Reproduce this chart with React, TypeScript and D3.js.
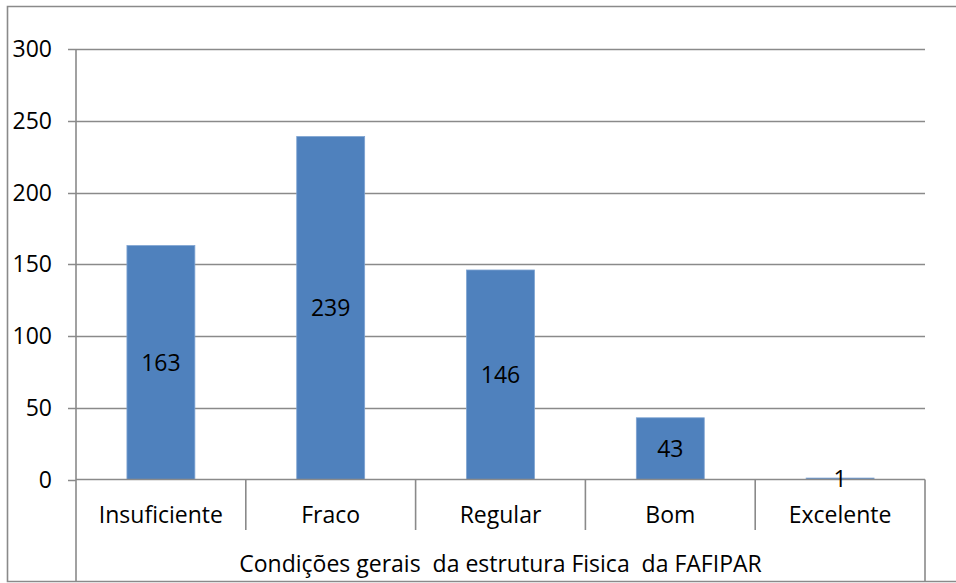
import React, { useRef, useEffect } from 'react';
import * as d3 from 'd3';

const categories = ['Insuficiente', 'Fraco', 'Regular', 'Bom', 'Excelente'];
const values = [163, 239, 146, 43, 1];
const yTicks = [0, 50, 100, 150, 200, 250, 300];
const groupLabel = 'Condições gerais  da estrutura Fisica  da FAFIPAR';

const W = 956;
const H = 583;
const FONT = '"Open Sans", "Noto Sans", sans-serif';

const App = () => {
  const svgRef = useRef<SVGSVGElement>(null);

  useEffect(() => {
    const svg = d3.select(svgRef.current);
    svg.selectAll('*').remove();

    const left = 76, right = 925, top = 49, zeroY = 479.5;
    const gray = '#8a8a8a';

    const x = d3.scaleBand().domain(categories).range([left, right]).paddingInner(0.6).paddingOuter(0.3);
    const band = d3.scaleBand().domain(categories).range([left, right]);
    const y = d3.scaleLinear().domain([0, 300]).range([zeroY, top]);

    // outer frame
    svg.append('path')
      .attr('d', `M${W},6.5 H7.5 V581.5 H${W}`)
      .attr('fill', 'none').attr('stroke', gray).attr('stroke-width', 1.6);

    // gridlines
    svg.append('g').selectAll('line')
      .data(yTicks.filter(t => t > 0))
      .enter().append('line')
      .attr('x1', left).attr('x2', right)
      .attr('y1', d => Math.round(y(d)) + 0.5).attr('y2', d => Math.round(y(d)) + 0.5)
      .attr('stroke', gray).attr('stroke-width', 1.3);

    // bars
    svg.append('g').selectAll('rect')
      .data(values)
      .enter().append('rect')
      .attr('x', (d, i) => x(categories[i])!)
      .attr('y', d => y(d))
      .attr('width', x.bandwidth())
      .attr('height', d => zeroY - y(d))
      .attr('fill', '#4f81bd')
      .attr('stroke', '#7ea3d2').attr('stroke-width', 0.8);

    // y axis ticks and labels
    const yAxis = svg.append('g');
    yAxis.selectAll('line')
      .data(yTicks)
      .enter().append('line')
      .attr('x1', 68).attr('x2', left)
      .attr('y1', d => Math.round(y(d)) + 0.5).attr('y2', d => Math.round(y(d)) + 0.5)
      .attr('stroke', gray).attr('stroke-width', 1.5);
    yAxis.selectAll('text')
      .data(yTicks)
      .enter().append('text')
      .attr('x', 52).attr('y', d => y(d))
      .attr('dy', '0.35em')
      .attr('text-anchor', 'end')
      .attr('font-family', FONT).attr('font-size', 23)
      .text(d => d);

    // axis lines
    svg.append('line').attr('x1', left).attr('x2', left).attr('y1', top).attr('y2', 581)
      .attr('stroke', gray).attr('stroke-width', 1.6);
    svg.append('line').attr('x1', left).attr('x2', right).attr('y1', zeroY).attr('y2', zeroY)
      .attr('stroke', gray).attr('stroke-width', 1.6);
    svg.append('line').attr('x1', right).attr('x2', right).attr('y1', zeroY).attr('y2', 581)
      .attr('stroke', gray).attr('stroke-width', 1.6);

    // category separators
    svg.append('g').selectAll('line')
      .data(categories.slice(1))
      .enter().append('line')
      .attr('x1', d => band(d)!).attr('x2', d => band(d)!)
      .attr('y1', zeroY).attr('y2', 530)
      .attr('stroke', gray).attr('stroke-width', 1.6);

    // category labels
    svg.append('g').selectAll('text')
      .data(categories)
      .enter().append('text')
      .attr('x', d => band(d)! + band.bandwidth() / 2)
      .attr('y', 515)
      .attr('dy', '0.35em')
      .attr('text-anchor', 'middle')
      .attr('font-family', FONT).attr('font-size', 23)
      .text(d => d);

    // group label
    svg.append('text')
      .attr('x', (left + right) / 2).attr('y', 564)
      .attr('dy', '0.35em')
      .attr('text-anchor', 'middle')
      .attr('font-family', FONT).attr('font-size', 23)
      .style('white-space', 'pre')
      .text(groupLabel);

    // value labels
    svg.append('g').selectAll('text')
      .data(values)
      .enter().append('text')
      .attr('x', (d, i) => x(categories[i])! + x.bandwidth() / 2)
      .attr('y', d => (y(d) + zeroY) / 2)
      .attr('dy', '0.35em')
      .attr('text-anchor', 'middle')
      .attr('font-family', FONT).attr('font-size', 23)
      .text(d => d);
  }, []);

  return (
    <svg ref={svgRef} width={W} height={H}
      style={{ position: 'absolute', left: 0, top: 0, background: '#fff' }} />
  );
};

export default App;
